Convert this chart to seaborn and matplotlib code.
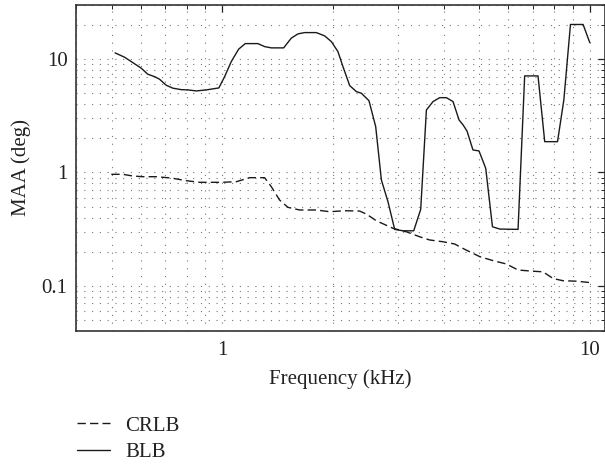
import matplotlib
matplotlib.use("Agg")
import matplotlib.pyplot as plt
import matplotlib.ticker as mticker
import numpy as np
import pandas as pd
import seaborn as sns

# ---- data ----
blb_freq = [0.511, 0.542, 0.571, 0.602, 0.627, 0.654, 0.675, 0.704, 0.734, 0.773,
            0.806, 0.850, 0.905, 0.979, 1.015, 1.058, 1.108, 1.155, 1.250, 1.304,
            1.36, 1.469, 1.541, 1.607, 1.675, 1.803, 1.899, 1.981, 2.064, 2.130,
            2.222, 2.317, 2.390, 2.507, 2.615, 2.710, 2.824, 2.945, 3.103, 3.318,
            3.467, 3.593, 3.745, 3.905, 4.07, 4.245, 4.408, 4.52, 4.634, 4.81,
            4.995, 5.21, 5.435, 5.69, 6.38, 6.65, 7.23, 7.54, 8.17, 8.50,
            8.86, 9.59, 10.0]
blb_maa = [11.34, 10.4, 9.31, 8.31, 7.36, 7.01, 6.65, 5.88, 5.54, 5.38,
           5.35, 5.24, 5.35, 5.57, 7.01, 9.5, 12.23, 13.7, 13.7, 12.89,
           12.56, 12.56, 15.3, 16.69, 17.13, 17.13, 16.03, 14.27, 11.65, 8.59,
           5.84, 5.17, 5.0, 4.30, 2.54, 0.859, 0.553, 0.315, 0.306, 0.306,
           0.473, 3.56, 4.22, 4.57, 4.57, 4.22, 2.91, 2.63, 2.32, 1.58,
           1.55, 1.09, 0.332, 0.317, 0.315, 7.11, 7.11, 1.87, 1.87, 4.36,
           20.2, 20.2, 13.98]

crlb_freq = [0.499, 0.536, 0.571, 0.608, 0.661, 0.726, 0.798, 0.867, 0.994, 1.092,
             1.187, 1.304, 1.36, 1.432, 1.509, 1.623, 1.803, 1.96, 2.153, 2.365,
             2.466, 2.627, 2.914, 3.17, 3.445, 3.668, 3.987, 4.29, 4.568, 5.02,
             5.455, 5.93, 6.38, 6.94, 7.46, 7.95, 8.46, 9.20, 10.0]
crlb_maa = [0.964, 0.964, 0.931, 0.918, 0.918, 0.894, 0.847, 0.819, 0.819, 0.829,
            0.900, 0.900, 0.749, 0.572, 0.493, 0.467, 0.467, 0.451, 0.460, 0.457,
            0.430, 0.375, 0.322, 0.300, 0.271, 0.254, 0.245, 0.234, 0.210, 0.181,
            0.167, 0.156, 0.138, 0.135, 0.133, 0.116, 0.111, 0.110, 0.107]

x_ticks = [1, 10]
x_tick_labels = ["1", "10"]
y_ticks = [0.1, 1, 10]
y_tick_labels = ["0.1", "1", "10"]

# ---- style ----
sns.set_theme(style="white")
plt.rcParams["font.family"] = ["Liberation Serif", "DejaVu Serif"]
FS = 15
plt.rcParams["font.size"] = FS

fig = plt.figure(figsize=(6.05, 4.66), dpi=100)
ax = fig.add_axes([76 / 605, (466 - 331) / 466, 529 / 605, (331 - 5) / 466])

crlb_df = pd.DataFrame({"Frequency": crlb_freq, "MAA": crlb_maa})
blb_df = pd.DataFrame({"Frequency": blb_freq, "MAA": blb_maa})

sns.lineplot(data=crlb_df, x="Frequency", y="MAA", ax=ax, color="#1a1a1a",
             lw=1.0, estimator=None, label="CRLB",
             linestyle=(0, (6, 3)))
sns.lineplot(data=blb_df, x="Frequency", y="MAA", ax=ax, color="#1a1a1a",
             lw=1.0, estimator=None, label="BLB")

ax.set_xscale("log")
ax.set_yscale("log")
ax.set_xlim(0.4, 11)
ax.set_ylim(0.04, 30)

ax.xaxis.set_major_locator(mticker.FixedLocator(x_ticks))
ax.xaxis.set_major_formatter(mticker.FixedFormatter(x_tick_labels))
ax.yaxis.set_major_locator(mticker.FixedLocator(y_ticks))
ax.yaxis.set_major_formatter(mticker.FixedFormatter(y_tick_labels))
ax.xaxis.set_minor_locator(mticker.LogLocator(base=10, subs=np.arange(2, 10), numticks=20))
ax.yaxis.set_minor_locator(mticker.LogLocator(base=10, subs=np.arange(2, 10), numticks=20))
ax.xaxis.set_minor_formatter(mticker.NullFormatter())
ax.yaxis.set_minor_formatter(mticker.NullFormatter())

ax.tick_params(which="both", direction="in", top=True, right=True,
               colors="#222222", labelcolor="#222222", labelsize=FS)
ax.tick_params(which="major", length=5, width=0.9)
ax.tick_params(which="minor", length=3, width=0.7)
ax.tick_params(axis="x", which="major", pad=7)
ax.tick_params(axis="y", which="major", pad=6)

ax.grid(True, which="both", color="#777777", lw=0.8, linestyle=(0, (1, 6)))

for sp in ax.spines.values():
    sp.set_color("#333333")
    sp.set_linewidth(1.2)
    sp.set_visible(True)

ax.set_xlabel("Frequency (kHz)", fontsize=FS, color="#222222", labelpad=7)
ax.set_ylabel("MAA (deg)", fontsize=FS, color="#222222", labelpad=8)

handles, labels = ax.get_legend_handles_labels()
ax.get_legend().remove()
leg = fig.legend(handles, labels, loc="upper left",
                 bbox_to_anchor=(77 / 605, 1 - 416 / 466), frameon=False,
                 fontsize=FS, handlelength=1.6, handletextpad=0.72,
                 labelspacing=0.33, borderaxespad=0, borderpad=0)
for t in leg.get_texts():
    t.set_color("#222222")

fig.savefig("out.png", dpi=100)
